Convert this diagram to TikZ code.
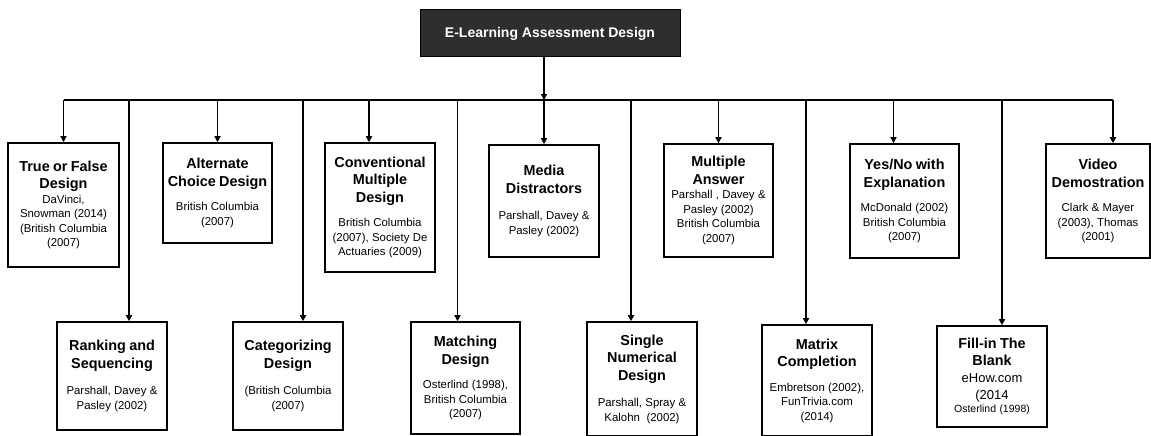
\documentclass[tikz,border=0pt]{standalone}
\usepackage{fontspec}
\setmainfont{Liberation Sans}
\usetikzlibrary{arrows.meta}
\newcommand\hfont{\fontsize{14.4}{17.5}\selectfont\bfseries}
\newcommand\rfont{\fontsize{11.4}{14.5}\selectfont}
\newcommand\mfont{\fontsize{13}{17}\selectfont}
\newcommand\sfont{\fontsize{10.5}{13}\selectfont}
\begin{document}
\begin{tikzpicture}[x=1pt,y=-1pt,
  box/.style={draw, line width=1.6pt, align=center, inner sep=1pt, text width=106pt},
  conn/.style={line width=1.6pt},
  arr/.style={line width=1.6pt, -{Triangle[length=6pt,width=6pt]}}]
\useasboundingbox (0,0) rectangle (1151,436);
% title
\node[draw, line width=1pt, fill=black!82, text=white, minimum width=260pt, minimum height=47pt, font=\fontsize{14}{16}\selectfont\bfseries] (title) at (550,33.5) {E-Learning Assessment Design};
\coordinate (bus) at (544,100);
% top row
\node[box, minimum width=111pt, minimum height=124pt] (b1) at (63.5,205)
  {{\hfont True or False\\Design\par}{\rfont DaVinci,\\Snowman (2014)\\(British Columbia\\(2007)\par}};
\node[box, minimum width=109pt, minimum height=100pt] (b2) at (217.5,193)
  {{\hfont Alternate\\Choice Design\par}\vspace{10pt}{\rfont British Columbia\\(2007)\par}};
\node[box, minimum width=110pt, minimum height=129pt] (b3) at (380,207.5)
  {{\hfont Conventional\\Multiple\\Design\par}\vspace{10pt}{\rfont British Columbia\\(2007), Society De\\Actuaries (2009)\par}};
\node[box, minimum width=110pt, minimum height=112pt] (b4) at (544,201)
  {{\hfont Media\\Distractors\par}\vspace{12pt}{\rfont Parshall, Davey \&\\Pasley (2002)\par}};
\node[box, minimum width=109pt, minimum height=113pt] (b5) at (718.5,200.5)
  {{\hfont Multiple\\Answer\par}{\rfont Parshall , Davey \&\\Pasley (2002)\\British Columbia\\(2007)\par}};
\node[box, minimum width=109pt, minimum height=114pt] (b6) at (904.5,201)
  {{\hfont Yes/No with\\Explanation\par}\vspace{10pt}{\rfont McDonald (2002)\\British Columbia\\(2007)\par}};
\node[box, minimum width=104pt, minimum height=114pt, text width=100pt] (b7) at (1098,201)
  {{\hfont Video\\Demostration\par}\vspace{10pt}{\rfont Clark \& Mayer\\(2003), Thomas\\(2001)\par}};
% bottom row
\node[box, minimum width=110pt, minimum height=108pt] (c1) at (112,376)
  {{\hfont Ranking and\\Sequencing\par}\vspace{12pt}{\rfont Parshall, Davey \&\\Pasley (2002)\par}};
\node[box, minimum width=110pt, minimum height=108pt] (c2) at (288,376)
  {{\hfont Categorizing\\Design\par}\vspace{12pt}{\rfont (British Columbia\\(2007)\par}};
\node[box, minimum width=109pt, minimum height=112pt] (c3) at (465.5,378)
  {{\hfont Matching\\Design\par}\vspace{10pt}{\rfont Osterlind (1998),\\British Columbia\\(2007)\par}};
\node[box, minimum width=110pt, minimum height=114pt] (c4) at (642,379)
  {{\hfont Single\\Numerical\\Design\par}\vspace{12pt}{\rfont Parshall, Spray \&\\Kalohn\ \ (2002)\par}};
\node[box, minimum width=110pt, minimum height=111pt] (c5) at (817,380.5)
  {{\hfont Matrix\\Completion\par}\vspace{10pt}{\rfont Embretson (2002),\\FunTrivia.com\\(2014)\par}};
\node[box, minimum width=110pt, minimum height=101pt] (c6) at (992,376.5)
  {{\hfont Fill-in The\\Blank\par}{\mfont eHow.com\\(2014\par}{\sfont Osterlind (1998)\par}};
% arrow targets
\coordinate (t1) at (b1.north);
\coordinate (t2) at (b2.north);
\coordinate (t3) at ([xshift=-11pt]b3.north);
\coordinate (t4) at (b4.north);
\coordinate (t5) at (b5.north);
\coordinate (t6) at ([xshift=-11pt]b6.north);
\coordinate (t7) at ([xshift=15pt]b7.north);
\coordinate (u1) at ([xshift=17pt]c1.north);
\coordinate (u2) at ([xshift=15pt]c2.north);
\coordinate (u3) at ([xshift=-8pt]c3.north);
\coordinate (u4) at ([xshift=-11pt]c4.north);
\coordinate (u5) at ([xshift=-11pt]c5.north);
\coordinate (u6) at ([xshift=10pt]c6.north);
\coordinate (ts) at (title.south -| bus);
% connectors
\draw[arr] (ts) -- (bus);
\draw[conn] (t1 |- bus) -- (t7 |- bus);
\foreach \t in {t1,t2,t3,t4,t5,t6,t7,u1,u2,u3,u4,u5,u6}
  \draw[arr] (\t |- bus) -- (\t);
\end{tikzpicture}
\end{document}
